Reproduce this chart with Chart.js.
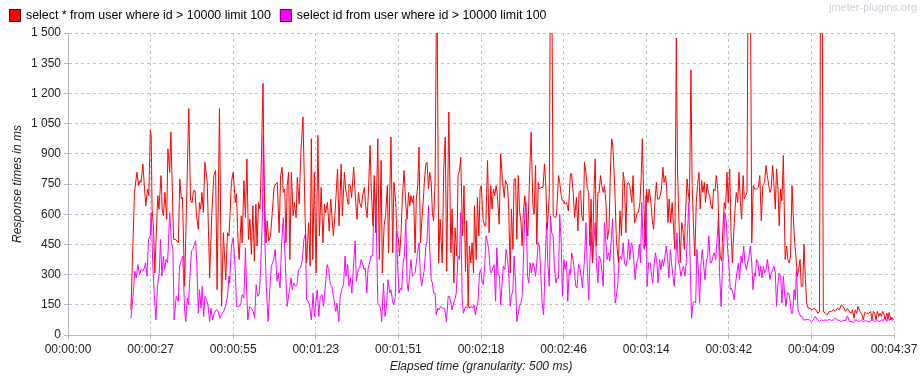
<!DOCTYPE html>
<html><head><meta charset="utf-8">
<script src="https://cdn.jsdelivr.net/npm/chart.js@4.4.1/dist/chart.umd.min.js"></script>
<style>html,body{margin:0;padding:0;background:#fff;overflow:hidden}#wrap{position:relative;width:923px;height:381px}</style>
</head><body><div id="wrap"><canvas id="c" width="923" height="381"></canvas></div>
<script>
const seriesNames = ['select * from user where id > 10000 limit 100', 'select id from user where id > 10000 limit 100'];
const seriesColors = ['#ff0000', '#ff00ff'];
const timeTickSeconds = [0, 27.7, 55.4, 83.1, 110.8, 138.5, 166.2, 193.9, 221.6, 249.3, 277];
const timeTickLabels = ['00:00:00', '00:00:27', '00:00:55', '00:01:23', '00:01:51', '00:02:18', '00:02:46', '00:03:14', '00:03:42', '00:04:09', '00:04:37'];
const responseTickValues = [0, 150, 300, 450, 600, 750, 900, 1050, 1200, 1350, 1500];
const responseTickLabels = ['0', '150', '300', '450', '600', '750', '900', '1 050', '1 200', '1 350', '1 500'];

// [elapsed seconds, response ms]
const selectAllPoints = [
[21.1,125],[22.3,708],[23.1,808],[23.7,742],[24.2,767],[24.5,758],[25.1,850],[25.6,742],[26.1,642],[26.7,725],[27.1,692],[27.6,1017],[27.9,992],[28.2,625],[28.7,525],[29.1,308],[30.1,692],[30.5,625],[31.2,792],[31.6,625],[32.0,592],[32.5,708],[33.1,575],[33.5,925],[34.1,808],[34.5,1008],[35.4,475],[36.1,475],[37.0,458],[37.5,775],[38.0,675],[38.4,683],[39.1,242],[40.5,1125],[41.1,667],[41.6,658],[42.1,717],[42.6,717],[43.1,592],[43.7,525],[44.1,658],[44.5,625],[44.9,708],[45.4,608],[45.9,858],[46.7,758],[47.5,283],[48.2,592],[48.9,792],[49.5,817],[50.0,225],[50.8,1125],[51.5,142],[52.1,508],[52.9,275],[53.5,508],[54.0,492],
[54.8,758],[55.4,808],[56.1,658],[56.5,700],[57.0,475],[57.4,375],[58.1,592],[58.4,458],[59.0,767],[59.5,583],[60.0,875],[60.5,475],[61.0,575],[61.5,400],[62.0,642],[62.5,367],[63.0,650],[63.4,442],[63.9,658],[64.4,625],[64.8,842],[65.4,1250],[65.8,742],[66.4,458],[66.8,567],[67.3,467],[67.9,492],[68.5,608],[69.1,733],[69.7,750],[70.2,758],[70.8,508],[71.3,792],[71.8,833],[72.2,708],[72.7,725],[73.1,458],[73.5,742],[74.0,808],[74.4,375],[74.9,808],[75.5,592],[75.9,658],[76.5,583],[76.9,783],[77.5,650],[78.1,908],[78.8,1083],[79.5,592],[80.0,358],[80.7,558],[81.2,342],[81.6,975],[82.1,375],[82.6,808],[83.2,308],[83.8,992],[84.3,492],[84.9,733],[85.5,458],[86.0,650],[86.4,608],[87.0,658],[87.6,517],[88.1,675],[88.5,592],[89.0,492],
[89.5,592],[90.0,725],[90.4,825],[90.9,542],[91.6,850],[92.0,592],[92.7,808],[93.1,725],[93.6,683],[93.9,650],[94.2,750],[94.7,742],[95.1,683],[95.8,833],[96.5,658],[96.9,575],[97.4,708],[97.8,658],[98.4,633],[98.8,692],[99.4,733],[99.8,642],[100.3,583],[100.7,692],[101.3,942],[101.7,725],[102.3,542],[102.7,792],[103.2,508],[103.9,975],[104.4,375],[105.0,867],[105.4,308],[106.0,542],[106.5,592],[107.1,742],[107.5,408],[108.3,983],[108.9,408],[109.3,758],[109.9,658],[110.3,508],[110.8,475],[111.2,392],[111.7,508],[112.1,675],[112.7,817],[113.3,642],[113.7,575],[114.2,708],[114.6,642],[115.0,692],[115.5,658],[115.9,692],[116.4,408],[116.8,675],[117.3,742],[117.7,933],[118.2,458],[118.6,558],[119.1,658],[119.5,758],[120.0,850],[120.4,858],[120.9,725],[121.3,808],[121.8,758],[122.2,608],[122.6,567],[123.1,758],[123.7,1900],[124.3,358],
[124.8,575],[125.5,358],[126.0,825],[126.5,983],[127.0,317],[127.7,1108],[128.4,408],[128.8,625],[129.4,258],[129.8,533],[130.4,392],[130.8,792],[131.3,817],[131.7,883],[132.3,492],[132.8,742],[133.3,317],[133.7,567],[134.2,142],[134.6,442],[135.1,358],[135.5,458],[136.0,308],[136.3,642],[136.9,375],[137.3,683],[137.8,492],[138.2,725],[138.6,742],[139.2,575],[139.7,542],[140.1,542],[140.7,867],[141.2,508],[141.8,742],[142.2,625],[142.7,725],[143.1,692],[143.6,742],[144.0,692],[144.6,550],[145.1,900],[145.7,767],[146.3,683],[146.7,767],[147.4,742],[147.8,625],[148.3,308],[148.7,625],[149.2,425],[149.6,775],[150.1,775],[150.5,475],[151.0,792],[151.4,625],[151.9,558],[152.3,442],[152.7,608],[153.2,692],[153.6,608],[154.2,492],[154.8,792],[155.3,1008],[155.9,642],[156.3,600],[156.8,842],[157.2,450],[157.7,758],[158.1,725],[158.6,733],
[159.3,733],[159.8,850],[160.2,758],[160.7,525],[161.4,692],[161.8,1900],[162.2,1900],[162.7,592],[163.4,583],[163.8,592],[164.5,792],[164.9,758],[165.4,692],[165.8,667],[166.3,667],[166.7,650],[167.2,658],[167.8,617],[168.5,800],[168.9,800],[169.4,708],[169.9,583],[170.5,683],[171.0,517],[171.4,708],[171.9,717],[172.3,592],[172.8,567],[173.2,858],[173.7,808],[174.1,733],[174.6,708],[175.0,442],[175.4,675],[175.9,358],[176.3,675],[176.8,875],[177.2,442],[177.7,708],[178.1,708],[178.6,792],[179.0,742],[179.5,708],[179.9,742],[180.4,658],[180.9,475],[181.4,525],[181.9,808],[182.3,975],[182.7,942],[183.3,758],[183.9,475],[184.6,358],[185.1,617],[185.6,492],[186.2,808],[186.6,758],[187.1,508],[187.5,750],[188.0,758],[188.4,742],[189.1,658],[189.5,792],[190.0,558],[190.4,575],[190.9,608],[191.3,608],[191.8,658],[192.2,775],[192.6,975],[193.1,658],[193.6,442],[194.0,725],[194.5,658],[194.9,725],
[195.5,658],[195.9,575],[196.4,525],[196.8,658],[197.3,758],[197.7,675],[198.2,675],[198.6,692],[199.0,725],[199.5,833],[199.9,758],[200.4,792],[200.8,725],[201.2,558],[201.6,675],[202.1,558],[202.6,658],[203.1,525],[203.5,425],[204.0,1475],[204.4,825],[204.9,558],[205.3,358],[205.8,558],[206.2,525],[206.7,425],[207.1,608],[207.6,775],[208.0,708],[208.4,658],[208.9,1317],[209.3,742],[209.8,525],[210.2,392],[210.7,658],[211.1,742],[211.6,808],[212.0,625],[212.5,767],[212.9,708],[213.4,758],[213.8,658],[214.3,750],[214.7,708],[215.2,692],[215.6,642],[216.1,625],[216.5,725],[217.0,717],[217.4,792],[217.9,725],[218.3,525],[218.7,392],[219.2,367],[219.6,525],[220.1,658],[220.5,625],[221.0,808],[221.4,658],[221.9,825],[222.3,525],[222.8,358],[223.2,492],[223.7,625],[224.1,708],[224.6,658],[225.0,808],[225.5,658],[225.9,575],[226.4,792],[226.8,675],[227.2,692],[227.7,708],[228.1,1900],[228.8,1900],[229.3,458],[229.8,742],
[230.3,725],[230.9,725],[231.5,733],[232.0,792],[232.5,567],[233.0,742],[233.6,758],[234.1,842],[234.5,792],[235.0,742],[235.4,708],[235.8,725],[236.3,842],[236.7,758],[237.2,625],[237.6,825],[238.1,725],[238.5,542],[239.0,725],[239.4,667],[239.9,892],[240.5,375],[241.0,442],[241.4,375],[241.9,358],[242.3,392],[242.8,742],[243.2,592],[243.7,458],[244.1,392],[244.6,292],[245.0,325],[245.5,375],[245.9,242],[246.4,242],[246.8,450],[247.3,275],[247.7,158],[248.2,133],[248.8,133],[249.5,125],[250.2,133],[250.8,125],[251.5,108],[252.0,117],[252.4,1900],[252.9,1900],[253.3,117],[254.0,108],[254.6,100],[255.3,117],[256.0,117],[256.7,125],[257.3,117],[258.0,133],[258.7,125],[259.3,150],[260.0,142],[260.7,117],[261.4,133],[262.0,117],[262.7,108],[263.1,125],[263.6,83],[264.0,125],[264.5,108],[264.9,142],[265.6,117],[266.3,100],[266.7,75],[267.2,112],[267.8,108],[268.5,108],[269.2,117],[269.6,75],[270.1,117],[270.5,108],[271.0,75],[271.4,117],[271.9,92],[272.3,108],[272.8,92],[273.2,117],[273.7,100],[274.1,78],[274.6,108],[275.0,92],[275.4,112],[275.9,75],[276.3,88],[276.8,75]
];

const selectIdPoints = [
[21.1,83],[21.8,192],[22.4,317],[22.9,283],[23.4,350],[24.0,300],[24.5,325],[25.1,317],[25.6,333],[26.0,358],[26.5,292],[27.0,475],[27.6,492],[27.9,608],[28.5,325],[28.9,208],[29.5,75],[30.0,242],[30.6,308],[31.0,475],[31.5,292],[32.0,392],[32.4,325],[32.9,375],[33.4,358],[34.1,608],[34.7,458],[35.2,425],[35.6,75],[36.3,192],[37.0,167],[37.4,342],[38.1,375],[38.5,392],[39.1,125],[39.5,67],[40.0,183],[40.4,150],[40.9,292],[41.4,417],[41.9,425],[42.3,450],[42.8,467],[43.2,358],[43.7,108],[44.1,225],[44.6,133],[45.0,242],[45.5,92],[45.9,192],[46.5,175],[47.0,142],[47.5,67],[47.9,133],[48.5,75],[49.0,108],[49.7,125],[50.4,117],[50.9,83],[51.5,100],[52.2,117],[52.8,142],[53.5,192],[54.0,292],
[54.2,258],[54.8,442],[55.4,483],[56.1,325],[56.5,142],[57.2,142],[57.9,150],[58.4,200],[59.0,183],[59.5,433],[59.9,225],[60.3,75],[60.9,142],[61.5,133],[62.1,117],[62.6,83],[63.1,250],[63.6,192],[64.1,200],[64.6,325],[65.2,592],[65.5,992],[66.0,475],[66.5,242],[67.1,67],[67.6,208],[68.2,342],[69.0,375],[69.5,425],[70.1,267],[70.5,308],[71.1,233],[71.6,442],[72.2,583],[72.7,425],[73.1,275],[73.5,142],[74.1,208],[74.8,283],[75.2,225],[75.7,258],[76.2,242],[76.8,250],[77.3,325],[78.0,333],[78.6,375],[79.1,475],[79.6,500],[80.0,175],[80.5,167],[81.0,150],[81.6,75],[82.2,208],[82.6,92],[83.1,158],[83.6,225],[84.1,92],[84.6,192],[85.2,200],[85.7,142],[86.3,242],[86.9,350],[87.4,325],[88.0,250],[88.5,242],[89.0,192],
[89.8,117],[90.2,158],[90.8,67],[91.3,192],[91.8,225],[92.4,250],[92.9,392],[93.3,292],[93.8,350],[94.2,242],[94.7,283],[95.2,208],[95.8,358],[96.3,467],[96.7,267],[97.3,325],[97.8,333],[98.3,375],[98.7,358],[99.3,325],[99.7,333],[100.2,208],[100.6,325],[101.1,358],[101.6,392],[102.2,392],[102.7,758],[103.3,617],[103.9,158],[104.3,150],[104.8,133],[105.2,67],[105.8,258],[106.3,92],[106.8,142],[107.3,275],[107.9,208],[108.3,225],[108.8,175],[109.2,150],[109.8,192],[110.1,517],[110.6,325],[111.0,208],[111.5,233],[111.9,225],[112.4,358],[112.8,392],[113.3,575],[113.7,258],[114.1,217],[114.6,300],[115.0,375],[115.5,292],[115.9,300],[116.4,308],[116.8,358],[117.3,417],[117.7,458],[118.2,292],[118.6,242],[119.1,292],[119.5,325],[120.0,442],[120.4,467],[120.9,642],[121.3,425],[121.8,275],[122.2,258],[122.6,208],[123.1,208],[123.5,100],[124.0,133],[124.4,125],
[125.0,142],[125.7,133],[126.3,133],[126.9,67],[127.5,192],[127.9,192],[128.4,158],[128.8,125],[129.3,158],[129.7,175],[130.2,208],[130.8,392],[131.3,375],[131.7,608],[132.2,175],[132.6,108],[133.1,133],[133.5,142],[134.0,133],[134.4,142],[134.8,133],[135.3,142],[135.7,133],[136.2,150],[136.6,100],[137.1,142],[137.5,167],[138.0,308],[138.4,325],[138.9,258],[139.3,250],[139.8,358],[140.2,492],[140.7,458],[141.1,425],[141.6,317],[142.0,308],[142.5,333],[142.9,350],[143.4,167],[143.8,433],[144.2,308],[144.7,292],[145.1,150],[145.6,258],[146.0,342],[146.5,325],[146.9,425],[147.4,375],[147.8,308],[148.3,142],[148.7,192],[149.2,225],[149.6,392],[150.1,258],[150.5,67],[151.0,108],[151.4,142],[151.9,158],[152.3,192],[152.7,358],[153.2,608],[153.6,658],[154.1,292],[154.5,258],[155.0,358],[155.4,308],[155.9,358],[156.3,342],[156.8,292],[157.2,358],[157.7,458],[158.1,442],[158.6,292],[159.0,158],[159.5,100],
[160.0,358],[160.5,558],[160.9,358],[161.4,242],[161.8,592],[162.2,508],[162.7,492],[163.1,342],[163.6,258],[164.0,283],[164.5,283],[164.9,600],[165.4,458],[165.8,192],[166.3,375],[166.7,325],[167.2,367],[167.6,167],[168.1,325],[168.5,300],[168.9,408],[169.4,375],[169.9,300],[170.3,242],[170.7,233],[171.2,350],[171.6,342],[172.1,292],[172.5,233],[173.2,375],[173.7,558],[174.1,358],[174.6,175],[175.0,358],[175.4,508],[175.9,358],[176.3,458],[176.8,558],[177.2,358],[177.7,258],[178.1,392],[178.6,375],[179.0,325],[179.5,242],[179.9,558],[180.4,458],[180.8,375],[181.3,408],[181.7,367],[182.2,475],[182.6,575],[183.1,342],[183.5,158],[183.9,192],[184.4,258],[184.8,375],[185.3,392],[185.7,375],[186.2,458],[186.6,358],[187.1,342],[187.5,375],[188.0,475],[188.4,375],[188.9,458],[189.3,442],[189.8,358],[190.2,275],[190.7,358],[191.1,375],[191.6,450],[192.0,358],[192.4,658],[192.9,442],[193.3,425],[193.8,692],[194.2,242],[194.7,358],
[195.3,358],[195.7,292],[196.1,258],[196.6,358],[197.0,408],[197.5,358],[197.9,258],[198.4,375],[198.8,325],[199.3,375],[199.7,342],[200.2,392],[200.6,442],[201.1,375],[201.5,283],[202.0,425],[202.4,358],[202.9,292],[203.3,242],[203.8,358],[204.2,508],[204.6,375],[205.1,342],[205.5,292],[206.0,325],[206.4,342],[206.9,292],[207.3,358],[207.8,525],[208.2,658],[208.7,325],[209.1,83],[209.6,158],[210.0,167],[210.5,158],[210.9,425],[211.4,325],[211.8,158],[212.3,358],[212.7,425],[213.1,358],[213.6,275],[214.0,358],[214.5,392],[214.9,492],[215.4,358],[215.8,358],[216.3,392],[216.7,408],[217.2,375],[217.6,458],[218.1,575],[218.5,308],[219.0,142],[219.4,308],[219.9,442],[220.3,608],[220.8,558],[221.2,425],[221.6,358],[222.1,225],[222.5,233],[223.0,208],[223.4,175],[223.9,258],[224.3,308],[224.8,358],[225.2,275],[225.7,392],[226.1,358],[226.6,442],[227.0,358],[227.5,325],[227.9,358],[228.4,392],[228.8,442],[229.3,358],[229.7,225],[230.2,308],
[230.5,292],[230.9,375],[231.4,358],[231.8,292],[232.3,342],[232.7,283],[233.2,342],[233.6,308],[234.1,325],[234.5,375],[235.0,325],[235.4,275],[235.8,308],[236.3,325],[236.7,342],[237.2,308],[237.6,142],[238.1,258],[238.5,308],[239.0,292],[239.4,158],[239.9,292],[240.3,208],[240.8,142],[241.2,208],[241.7,208],[242.1,175],[242.6,108],[243.0,108],[243.5,225],[243.9,175],[244.3,325],[244.8,125],[245.2,108],[245.7,92],[246.1,92],[246.6,75],[247.3,75],[247.9,78],[248.6,75],[249.3,67],[249.9,75],[250.6,92],[251.3,75],[252.0,67],[252.6,75],[253.3,72],[254.0,75],[254.6,72],[255.3,78],[256.0,72],[256.7,75],[257.3,83],[258.0,75],[258.7,72],[259.3,67],[260.0,72],[260.7,72],[261.4,95],[262.0,67],[262.7,67],[263.4,62],[264.0,75],[264.7,72],[265.4,65],[266.0,75],[266.7,65],[267.4,72],[268.1,67],[268.7,65],[269.4,72],[270.1,75],[270.7,67],[271.4,72],[272.1,67],[272.8,75],[273.4,72],[274.1,88],[274.6,67],[275.0,95],[275.4,72],[275.9,83],[276.3,72],[276.8,75]
];

const FONT = 'Arial, "Liberation Sans", sans-serif';
const AXIS_COLOR = '#b4b8c4';
const GRID_COLOR = '#c4c4c8';

const headerPlugin = {
  id: 'header',
  afterDraw(chart) {
    const ctx = chart.ctx;
    ctx.save();
    ctx.font = '12.4px ' + FONT;
    ctx.textBaseline = 'middle';
    ctx.textAlign = 'left';
    let x = 9;
    seriesNames.forEach((name, i) => {
      ctx.fillStyle = seriesColors[i];
      ctx.fillRect(x, 9, 12, 13);
      ctx.strokeStyle = 'rgba(0,0,0,0.55)';
      ctx.lineWidth = 1;
      ctx.strokeRect(x + 0.5, 9.5, 11, 12);
      ctx.fillStyle = '#000';
      ctx.fillText(name, x + 17, 16);
      x += 17 + ctx.measureText(name).width + 9;
    });
    ctx.font = '11px ' + FONT;
    ctx.fillStyle = '#ccd0d8';
    ctx.textAlign = 'right';
    ctx.fillText('jmeter-plugins.org', 917, 8);
    ctx.restore();
  }
};

new Chart(document.getElementById('c'), {
  type: 'line',
  data: {
    datasets: [
      { label: seriesNames[0], data: selectAllPoints.map(p => ({x: p[0], y: p[1]})), borderColor: seriesColors[0], backgroundColor: seriesColors[0], borderWidth: 1, pointRadius: 0, tension: 0, fill: false },
      { label: seriesNames[1], data: selectIdPoints.map(p => ({x: p[0], y: p[1]})), borderColor: seriesColors[1], backgroundColor: seriesColors[1], borderWidth: 1, pointRadius: 0, tension: 0, fill: false }
    ]
  },
  options: {
    responsive: false,
    devicePixelRatio: 1,
    animation: false,
    events: [],
    layout: { padding: { left: 0, right: 29, top: 33, bottom: 0 } },
    plugins: { legend: { display: false }, tooltip: { enabled: false }, title: { display: false } },
    scales: {
      x: {
        type: 'linear', min: 0, max: 277,
        afterBuildTicks: s => { s.ticks = timeTickSeconds.map(v => ({ value: v })); },
        afterFit: s => { s.height = 46; },
        ticks: { autoSkip: false, maxRotation: 0, padding: 3, color: '#222', font: { size: 12, family: FONT },
          callback: (v, i) => timeTickLabels[i] },
        grid: { color: GRID_COLOR, tickColor: AXIS_COLOR, tickLength: 4, lineWidth: 1 },
        border: { color: AXIS_COLOR, width: 1, dash: [3, 3] },
        title: { display: true, text: 'Elapsed time (granularity: 500 ms)', color: '#222', font: { size: 12, style: 'italic', family: FONT }, padding: { top: 0, bottom: 7 } }
      },
      y: {
        min: 0, max: 1500,
        afterBuildTicks: s => { s.ticks = responseTickValues.map(v => ({ value: v })); },
        afterFit: s => { s.width = 68; },
        ticks: { autoSkip: false, padding: 3, color: '#222', font: { size: 12, family: FONT },
          callback: (v, i) => responseTickLabels[i] },
        grid: { color: GRID_COLOR, tickColor: AXIS_COLOR, tickLength: 4, lineWidth: 1 },
        border: { color: AXIS_COLOR, width: 1, dash: [3, 3] },
        title: { display: true, text: 'Response times in ms', color: '#222', font: { size: 12, style: 'italic', family: FONT }, padding: { top: 10, bottom: 0 } }
      }
    }
  },
  plugins: [headerPlugin]
});
</script>
</body></html>
